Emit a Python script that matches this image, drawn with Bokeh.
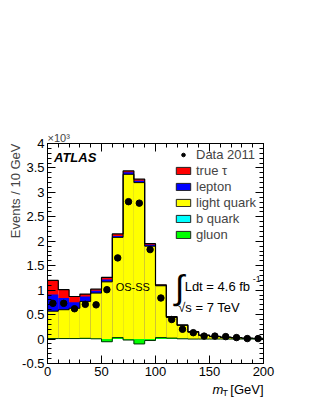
import numpy as np
from bokeh.plotting import figure
from bokeh.layouts import column
from bokeh.models import (Range1d, LinearAxis, FixedTicker, Label, Legend, LegendItem, Title,
                          ColumnDataSource, CustomJSTickFormatter)
from bokeh.embed import file_html
from bokeh.resources import INLINE

# ---- data (events in units of 10^3 per 10 GeV bin) ----
bin_edges = list(range(0, 210, 10))
gluon = [0.01, 0.01, 0.01, 0.015, 0.005, -0.055, 0.03, -0.02, -0.10, -0.03,
         0.03, 0.02, 0.005, 0.0, 0.0, 0.0, 0.0, 0.0, 0.0, 0.0]
b_quark = [0.002] * 12 + [0.0] * 8
light_quark = [0.558, 0.588, 0.618, 0.753, 0.933, 1.223, 2.048, 3.388, 3.298, 1.928,
               1.058, 0.418, 0.275, 0.14, 0.075, 0.05, 0.035, 0.025, 0.015, 0.01]
lepton = [0.34, 0.24, 0.125, 0.10, 0.05, 0.05, 0.03, 0.04, 0.04, 0.03,
          0.01, 0.01, 0.005, 0.005, 0.003, 0.002, 0.001, 0.001, 0.001, 0.001]
true_tau = [0.29, 0.17, 0.115, 0.05, 0.03, 0.04, 0.04, 0.03, 0.03, 0.02,
            0.01, 0.01, 0.005, 0.005, 0.002, 0.003, 0.004, 0.004, 0.004, 0.001]
data_2011 = [0.73, 0.73, 0.62, 0.71, 0.70, 1.01, 1.66, 2.81, 2.78, 1.83,
             0.84, 0.40, 0.20, 0.13, 0.06, 0.06, 0.05, 0.03, 0.01, 0.01]

FONT = "Liberation Sans"

edges = np.array(bin_edges, dtype=float)
left, right = edges[:-1], edges[1:]
centers = (left + right) / 2

c_gluon = np.array(gluon)
c_b = c_gluon + np.array(b_quark)
c_light = c_b + np.array(light_quark)
c_lep = c_light + np.array(lepton)
c_tau = c_lep + np.array(true_tau)

p = figure(x_range=Range1d(0, 200), y_range=Range1d(-0.5, 4.0),
           frame_width=216, frame_height=220,
           min_border_left=47, min_border_right=53, min_border_top=143, min_border_bottom=20,
           output_backend="svg", toolbar_location=None,
           background_fill_color="white", border_fill_color="white")
p.xgrid.visible = False
p.ygrid.visible = False
p.outline_line_color = "black"
p.outline_line_width = 1

def contour(vals):
    xs = [edges[0]]
    ys = [0.0]
    for i, v in enumerate(vals):
        xs += [left[i], right[i]]
        ys += [v, v]
    xs.append(edges[-1])
    ys.append(0.0)
    return xs, ys

fills = [(c_tau, "#ff0000"), (c_lep, "#0000ff"), (c_light, "#ffff00"),
         (c_b, "#00ffff"), (c_gluon, "#00ff00")]
for cum, col in fills:
    src = ColumnDataSource(dict(left=left, right=right, top=cum, bottom=np.zeros_like(cum)))
    p.quad(left="left", right="right", top="top", bottom="bottom", source=src,
           fill_color=col, line_color=None)

for cum, lw, lc in [(c_tau, 1.2, "black"), (c_light, 1.0, "black"), (c_gluon, 1.0, "#003300")]:
    xs, ys = contour(cum)
    p.line(xs, ys, line_color=lc, line_width=lw)

pts = p.scatter(centers, data_2011, size=6.5, color="black")

# axes
xt = FixedTicker(ticks=[0, 50, 100, 150, 200], minor_ticks=list(range(0, 201, 10)))
yt = FixedTicker(ticks=[-0.5 + 0.5 * k for k in range(10)],
                 minor_ticks=[round(-0.5 + 0.1 * k, 2) for k in range(46)])
fmt = CustomJSTickFormatter(code="return String(Math.round(tick*10)/10)")
blank = CustomJSTickFormatter(code="return ''")

def style(ax):
    ax.axis_line_color = "black"
    ax.major_tick_in = 8
    ax.major_tick_out = 0
    ax.minor_tick_in = 4
    ax.minor_tick_out = 0
    ax.major_tick_line_color = "black"
    ax.minor_tick_line_color = "black"
    ax.major_label_text_font = FONT
    ax.major_label_text_color = "black"
    ax.major_label_text_font_size = "13px"

p.xaxis.ticker = xt
p.yaxis.ticker = yt
p.yaxis.formatter = fmt
style(p.xaxis[0])
style(p.yaxis[0])
p.xaxis.major_label_standoff = 3
p.yaxis.major_label_standoff = 3

top_ax = LinearAxis(ticker=xt, formatter=blank)
right_ax = LinearAxis(ticker=yt, formatter=blank)
style(top_ax)
style(right_ax)
top_ax.major_label_standoff = 0
right_ax.major_label_standoff = 0
p.add_layout(top_ax, "above")
p.add_layout(right_ax, "right")

# y-axis title and exponent as side-panel titles
p.add_layout(Title(text="Events / 10 GeV", align="right", text_font=FONT,
                   text_font_size="13px", text_font_style="normal", standoff=-6), "left")
p.add_layout(Title(text="×10³", align="left", text_font=FONT,
                   text_font_size="11px", text_font_style="normal", standoff=0), "above")

# legend (legend-only renderers for swatches)
items = [LegendItem(label="Data 2011", renderers=[pts])]
for labt, col in [("true τ", "#ff0000"), ("lepton", "#0000ff"), ("light quark", "#ffff00"),
                  ("b quark", "#00ffff"), ("gluon", "#00ff00")]:
    dummy = ColumnDataSource(dict(left=[np.nan], right=[np.nan], top=[np.nan], bottom=[np.nan]))
    r = p.quad(left="left", right="right", top="top", bottom="bottom", source=dummy,
               fill_color=col, line_color="#222222", line_width=1)
    items.append(LegendItem(label=labt, renderers=[r]))
legend = Legend(items=items, location=(127, 121), padding=0, margin=0, spacing=1,
                glyph_width=18, glyph_height=9, label_height=14, label_standoff=4,
                label_text_font=FONT, label_text_font_size="13px",
                border_line_color=None, background_fill_alpha=0)
p.add_layout(legend)

def lab(fig, text, x, y, size="13px", align="left", style="normal", angle=0, base="middle"):
    fig.add_layout(Label(x=x, y=y, text=text, text_font=FONT, text_font_size=size,
                         text_align=align, text_baseline=base, text_font_style=style,
                         angle=angle, text_color="black"))

lab(p, "ATLAS", 6.0, 3.72, style="bold italic")
lab(p, "OS-SS", 79.0, 1.06, size="11px", align="center")
lab(p, "∫", 118.0, 1.07, size="34px")
lab(p, "Ldt = 4.6 fb", 127.0, 1.07)
lab(p, "-1", 190.0, 1.23, size="9px")
lab(p, "√s = 7 TeV", 121.0, 0.64)

# x-axis title strip under the plot; its frame lines up with the plot frame's
# left edge, so x here is in pixels from the plot frame's left edge
q = figure(frame_width=316, frame_height=26, x_range=Range1d(0, 316), y_range=Range1d(0, 26),
           x_axis_type=None, y_axis_type=None,
           min_border=0, min_border_left=0, min_border_right=0,
           min_border_top=0, min_border_bottom=0,
           output_backend="svg", toolbar_location=None,
           background_fill_color="white", border_fill_color="white")
q.xgrid.visible = False
q.ygrid.visible = False
q.outline_line_color = None
lab(q, "[GeV]", 216.0, 20.5, align="right")
lab(q, "m", 165.0, 20.5, style="italic")
lab(q, "T", 175.0, 17.0, size="9px")

layout = column(p, q, spacing=0)
open("out.html", "w").write(file_html(layout, INLINE))
